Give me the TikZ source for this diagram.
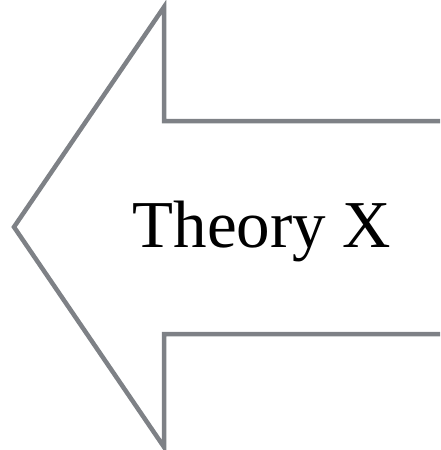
\documentclass[tikz,border=0pt]{standalone}
\usepackage{fontspec}
\setmainfont{Liberation Serif}
\usepackage{xcolor}
\usepackage{tikz}
\usetikzlibrary{positioning}

\definecolor{arrowgray}{RGB}{126,129,134}

\begin{document}
\begin{tikzpicture}[
    x=1pt, y=-1pt,
    arrowline/.style={draw=arrowgray, line width=4.5pt, line join=miter},
    labeltext/.style={font=\fontsize{67}{80}\selectfont, anchor=base, inner sep=0pt}
]

    % Frame of the picture
    \useasboundingbox (0,0) rectangle (440,450);
    \clip (0,0) rectangle (440,450);

    % Left-pointing block arrow (shaft runs off the right edge)
    \coordinate (shafttop) at (446,121);
    \coordinate (headtop) at (164,7);
    \coordinate (tip) at (14,227);
    \coordinate (headbottom) at (164,447);
    \coordinate (shaftbottom) at (446,334);
    \draw [arrowline] (shafttop) -- (164,121) -- (headtop) -- (tip)
        -- (headbottom) -- (164,334) -- (shaftbottom);

    % Label
    \node (label) [labeltext] at (262,247) {Theory X};

\end{tikzpicture}
\end{document}
